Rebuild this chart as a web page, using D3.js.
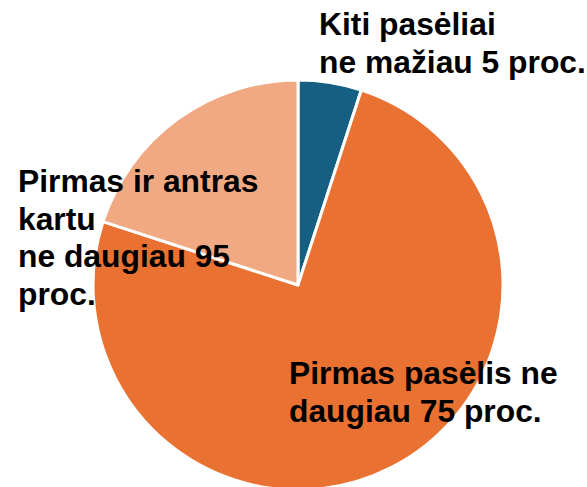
<!DOCTYPE html>
<html>
<head>
<meta charset="utf-8">
<script src="https://cdn.jsdelivr.net/npm/d3@7"></script>
<style>
  body { margin: 0; background: #fff; }
  svg { display: block; }
</style>
</head>
<body>
<script>
var width = 587, height = 487;

// slices in drawing order (clockwise from top)
var categories = ["Kiti pasėliai", "Pirmas pasėlis", "Pirmas ir antras"];
var values = [5, 75, 20];
var colors = ["#156082", "#e97132", "#f1a983"];
var labelLines = [
    ["Kiti pasėliai", "ne mažiau 5 proc."],
    ["Pirmas pasėlis ne", "daugiau 75 proc."],
    ["Pirmas ir antras", "kartu", "ne daugiau 95", "proc."]
];

var data = categories.map(function (c, i) {
    return { name: c, value: values[i], color: colors[i], lines: labelLines[i] };
});

// label anchors (left x, first baseline y)
var labelPos = [[319, 35], [289, 384], [18, 192]];
var lineHeight = 37.5;

var svg = d3.select("body")
    .append("svg")
    .attr("width", width)
    .attr("height", height);

var cx = 298, cy = 285, radius = 205;

var pie = d3.pie()
    .sort(null)
    .value(function (d) { return d.value; });

var arc = d3.arc()
    .innerRadius(0)
    .outerRadius(radius);

var g = svg.append("g")
    .attr("transform", "translate(" + cx + "," + cy + ")");

g.selectAll("path")
    .data(pie(data))
    .enter()
    .append("path")
    .attr("d", arc)
    .attr("fill", function (d) { return d.data.color; })
    .attr("stroke", "#fff")
    .attr("stroke-width", 3)
    .attr("stroke-linejoin", "round");

// labels
var labels = svg.selectAll("text.lbl")
    .data(data)
    .enter()
    .append("text")
    .attr("class", "lbl")
    .attr("font-family", "Liberation Sans, Arial, sans-serif")
    .attr("font-weight", "bold")
    .attr("font-size", 31.8)
    .attr("fill", "#000");

labels.each(function (d, i) {
    var t = d3.select(this);
    d.lines.forEach(function (line, j) {
        t.append("tspan")
            .attr("x", labelPos[i][0])
            .attr("y", labelPos[i][1] + j * lineHeight)
            .text(line);
    });
});
</script>
</body>
</html>
